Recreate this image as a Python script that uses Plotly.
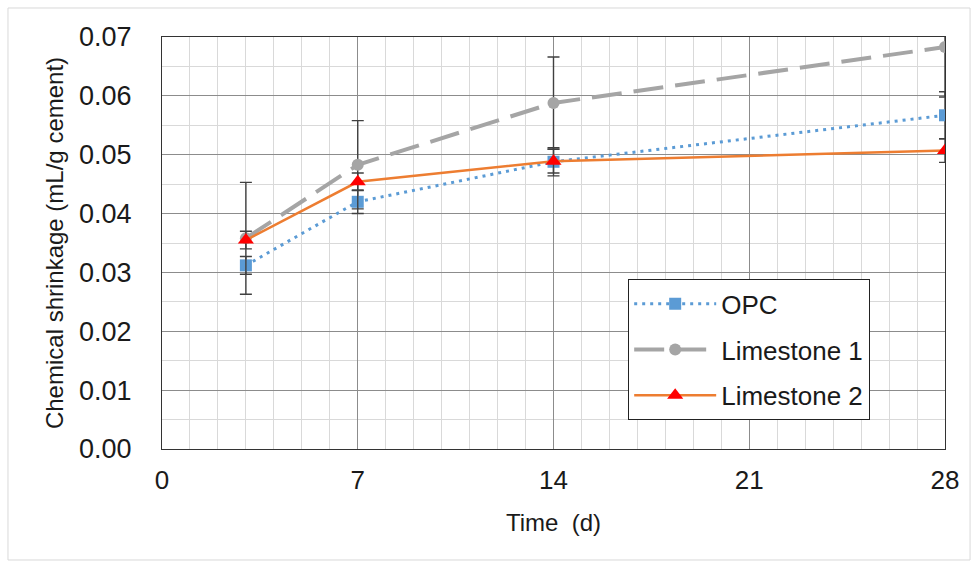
import plotly.graph_objects as go

days = [3, 7, 14, 28]
opc = [0.0312, 0.0420, 0.0488, 0.0567]
opc_err = [0.0015, 0.0020, 0.0024, 0.0040]
ls1 = [0.0358, 0.0483, 0.0588, 0.0683]
ls1_err = [0.0095, 0.0075, 0.0078, 0.0085]
ls2 = [0.0355, 0.0454, 0.0489, 0.0507]
ls2_err = [0.0015, 0.0015, 0.0020, 0.0020]
x_ticks = [0, 7, 14, 21, 28]

errc = "#404040"
fig = go.Figure()
fig.add_trace(go.Scatter(
    x=days, y=opc, name="OPC", mode="lines+markers", legendgroup="a",
    line=dict(color="#5B9BD5", width=3, dash="3px,5px"),
    marker=dict(symbol="square", size=12, color="#5B9BD5"),
    error_y=dict(type="data", array=opc_err, color=errc, thickness=1.4, width=6)))
fig.add_trace(go.Scatter(
    x=days, y=ls1, name="Limestone 1", mode="lines+markers", legendgroup="b",
    line=dict(color="#A5A5A5", width=4, dash="30px,12px"),
    marker=dict(symbol="circle", size=12, color="#A5A5A5"),
    error_y=dict(type="data", array=ls1_err, color=errc, thickness=1.4, width=6)))
fig.add_trace(go.Scatter(
    x=days, y=ls2, name="Limestone 2", mode="lines+markers", legendgroup="c",
    line=dict(color="#ED7D31", width=2.5),
    marker=dict(symbol="triangle-up", size=14, color="#FF0000"),
    error_y=dict(type="data", array=ls2_err, color=errc, thickness=1.4, width=6)))

fig.update_layout(
    width=978, height=568,
    margin=dict(l=162, r=33, t=37, b=119),
    paper_bgcolor="white", plot_bgcolor="white",
    font=dict(family="Liberation Sans, Arial, sans-serif", color="#1a1a1a"),
    showlegend=True,
    legend=dict(x=0.595, y=0.4126, xanchor="left", yanchor="top",
                bgcolor="white", bordercolor="#222222", borderwidth=1.3,
                font=dict(size=26, color="#1a1a1a"), itemwidth=82,
                tracegroupgap=9),
    xaxis=dict(range=[0, 28], tickvals=x_ticks, ticktext=[str(v) for v in x_ticks],
               showgrid=True, gridcolor="#8c8c8c", gridwidth=1,
               minor=dict(dtick=1, showgrid=True, gridcolor="#d9d9d9", gridwidth=1),
               showline=True, linecolor="#333333", linewidth=1.3, mirror=True,
               zeroline=False, ticks="", tickfont=dict(size=26),
               ticklabelstandoff=8,
               title=dict(text="Time  (d)", font=dict(size=24), standoff=19)),
    yaxis=dict(range=[0, 0.07], dtick=0.01, tickformat=".2f",
               showgrid=True, gridcolor="#8c8c8c", gridwidth=1,
               minor=dict(dtick=0.005, showgrid=True, gridcolor="#d9d9d9", gridwidth=1),
               showline=True, linecolor="#333333", linewidth=1.3, mirror=True,
               zeroline=False, ticks="", tickfont=dict(size=27),
               ticklabelstandoff=24,
               title=dict(text="Chemical shrinkage (mL/g cement)", font=dict(size=24), standoff=8)),
    shapes=[dict(type="rect", xref="paper", yref="paper",
                 x0=-0.1967, x1=1.032, y0=-0.2694, y1=1.0704,
                 line=dict(color="#d9d9d9", width=1), layer="below")],
)
fig.write_html("out.html")
